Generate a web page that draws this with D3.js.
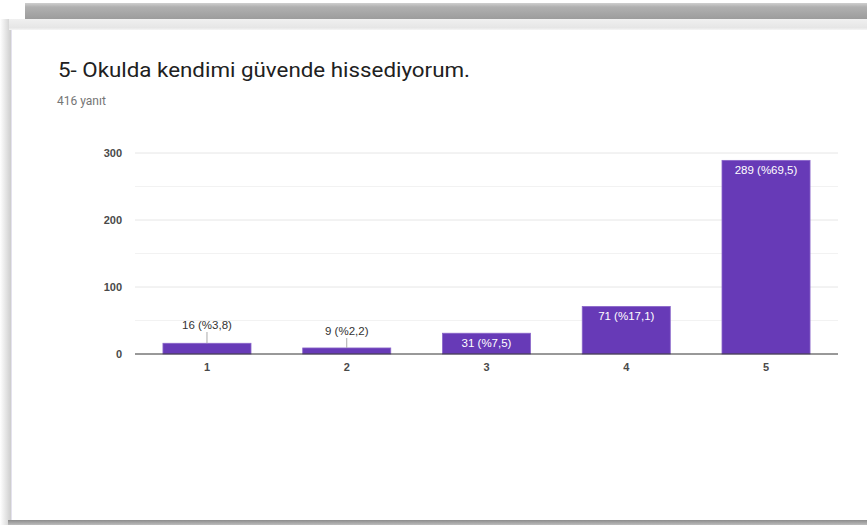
<!DOCTYPE html>
<html>
<head>
<meta charset="utf-8">
<script src="https://cdn.jsdelivr.net/npm/d3@7"></script>
<style>
  body { margin: 0; background: #fff; }
  svg { display: block; }
</style>
</head>
<body>
<div id="vis"></div>
<script>
// chart data
const categories = ["1", "2", "3", "4", "5"];
const counts = [16, 9, 31, 71, 289];
const percents = ["3,8", "2,2", "7,5", "17,1", "69,5"];
const yTicks = [0, 100, 200, 300];
const titleText = "5- Okulda kendimi güvende hissediyorum.";
const subText = "416 yanıt";

let width = 867, height = 525;

let svg = d3.select("#vis").append("svg")
    .attr("width", width)
    .attr("height", height);

let defs = svg.append("defs");
let topGrad = defs.append("linearGradient").attr("id", "topband").attr("x1", 0).attr("y1", 0).attr("x2", 0).attr("y2", 1);
topGrad.append("stop").attr("offset", "0%").attr("stop-color", "#cfcfcf");
topGrad.append("stop").attr("offset", "25%").attr("stop-color", "#b0b0b0");
topGrad.append("stop").attr("offset", "100%").attr("stop-color", "#9c9c9c");

let stripGrad = defs.append("linearGradient").attr("id", "strip").attr("x1", 0).attr("y1", 0).attr("x2", 0).attr("y2", 1);
stripGrad.append("stop").attr("offset", "0%").attr("stop-color", "#f0f0f0");
stripGrad.append("stop").attr("offset", "80%").attr("stop-color", "#e6e6e6");
stripGrad.append("stop").attr("offset", "100%").attr("stop-color", "#f6f6f6");

let leftGrad = defs.append("linearGradient").attr("id", "leftshadow").attr("x1", 0).attr("y1", 0).attr("x2", 1).attr("y2", 0);
leftGrad.append("stop").attr("offset", "0%").attr("stop-color", "#ffffff");
leftGrad.append("stop").attr("offset", "100%").attr("stop-color", "#cdcdcd");

let botGrad = defs.append("linearGradient").attr("id", "botshadow").attr("x1", 0).attr("y1", 0).attr("x2", 0).attr("y2", 1);
botGrad.append("stop").attr("offset", "0%").attr("stop-color", "#8c8c8c");
botGrad.append("stop").attr("offset", "100%").attr("stop-color", "#bdbdbd");

// page frame (top gray band, card and its shadows)
svg.append("rect").attr("x", 25).attr("y", 3).attr("width", width - 25).attr("height", 16).attr("fill", "url(#topband)");
svg.append("rect").attr("x", 0).attr("y", 19).attr("width", 11).attr("height", 506).attr("fill", "url(#leftshadow)");
svg.append("rect").attr("x", 11).attr("y", 19).attr("width", width - 11).attr("height", 501).attr("fill", "#fff");
svg.append("rect").attr("x", 9).attr("y", 19).attr("width", width - 9).attr("height", 11).attr("fill", "url(#strip)");
svg.append("line").attr("x1", 11.5).attr("x2", 11.5).attr("y1", 30).attr("y2", 520)
    .attr("stroke", "#e4e2ee").attr("stroke-width", 1);
svg.append("rect").attr("x", 8).attr("y", 520).attr("width", width - 8).attr("height", 5).attr("fill", "url(#botshadow)");

svg.append("text")
    .attr("x", 58).attr("y", 77)
    .attr("font-family", "Roboto, sans-serif")
    .attr("font-size", 21)
    .attr("fill", "#212121")
    .attr("textLength", 412)
    .attr("lengthAdjust", "spacingAndGlyphs")
    .text(titleText);

svg.append("text")
    .attr("x", 57).attr("y", 105)
    .attr("font-family", "Roboto, sans-serif")
    .attr("font-size", 12)
    .attr("fill", "#757575")
    .text(subText);

// chart area
let plotLeft = 135, plotRight = 838, plotTop = 153, plotBottom = 354;

let x = d3.scaleBand()
    .domain(categories)
    .range([plotLeft, plotRight])
    .paddingInner(0.37)
    .paddingOuter(0.2);

let y = d3.scaleLinear()
    .domain([0, 300])
    .range([plotBottom, plotTop]);

// gridlines (major + minor)
svg.append("g")
    .selectAll("line")
    .data(d3.range(0, 301, 50).filter(v => v > 0))
    .enter().append("line")
    .attr("x1", plotLeft).attr("x2", plotRight)
    .attr("y1", d => y(d)).attr("y2", d => y(d))
    .attr("stroke", d => d % 100 == 0 ? "#e6e6e6" : "#f2f2f2")
    .attr("stroke-width", 1);

let yAxis = svg.append("g")
    .attr("transform", "translate(" + plotLeft + ",0)")
    .call(d3.axisLeft(y).tickValues(yTicks).tickSize(0).tickPadding(13));
yAxis.select(".domain").remove();
yAxis.selectAll("text")
    .attr("font-family", "Liberation Sans, Arial, sans-serif")
    .attr("font-size", 11)
    .attr("font-weight", "bold")
    .attr("fill", "#4a4a4a");

let bars = categories.map((c, i) => ({cat: c, n: counts[i], p: percents[i]}));

svg.append("g")
    .selectAll("rect")
    .data(bars)
    .enter().append("rect")
    .attr("x", d => x(d.cat))
    .attr("y", d => y(d.n))
    .attr("width", x.bandwidth())
    .attr("height", d => y(0) - y(d.n))
    .attr("fill", "#673ab7")
    .attr("stroke", "#8a66c9")
    .attr("stroke-width", 0.8);

// baseline
svg.append("line")
    .attr("x1", plotLeft).attr("x2", plotRight)
    .attr("y1", y(0)).attr("y2", y(0))
    .attr("stroke", "#333").attr("stroke-width", 1);

let xAxis = svg.append("g")
    .attr("transform", "translate(0," + plotBottom + ")")
    .call(d3.axisBottom(x).tickSize(0).tickPadding(9));
xAxis.select(".domain").remove();
xAxis.selectAll("text")
    .attr("font-family", "Liberation Sans, Arial, sans-serif")
    .attr("font-size", 11)
    .attr("font-weight", "bold")
    .attr("fill", "#4a4a4a");

// value labels: inside tall bars, above short ones with a leader line
let labelOffsets = {"1": 25, "2": 19};
bars.forEach(function(d){
    let cx = x(d.cat) + x.bandwidth() / 2;
    let label = d.n + " (%" + d.p + ")";
    let inside = (y(0) - y(d.n)) > 16;
    if(inside){
        svg.append("text")
            .attr("x", cx).attr("y", y(d.n) + 14)
            .attr("text-anchor", "middle")
            .attr("font-family", "Liberation Sans, Arial, sans-serif")
            .attr("font-size", 11.5)
            .attr("fill", "#fff")
            .text(label);
    }else{
        let ty = y(0) - labelOffsets[d.cat];
        svg.append("line")
            .attr("x1", cx).attr("x2", cx)
            .attr("y1", ty + 3).attr("y2", y(d.n))
            .attr("stroke", "#aaa").attr("stroke-width", 1);
        svg.append("text")
            .attr("x", cx).attr("y", ty)
            .attr("text-anchor", "middle")
            .attr("font-family", "Liberation Sans, Arial, sans-serif")
            .attr("font-size", 11.5)
            .attr("fill", "#333")
            .text(label);
    }
});
</script>
</body>
</html>
